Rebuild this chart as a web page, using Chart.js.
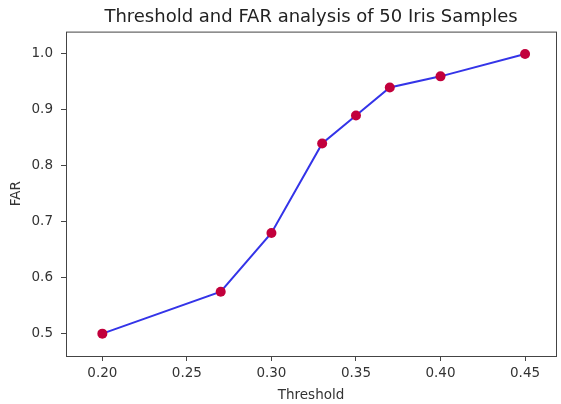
<!DOCTYPE html>
<html>
<head>
<meta charset="utf-8">
<script src="https://cdn.jsdelivr.net/npm/chart.js@4/dist/chart.umd.min.js"></script>
<style>
  html, body { margin: 0; padding: 0; background: #fff; }
  #wrap { width: 561px; height: 404px; position: relative; }
</style>
</head>
<body>
<div id="wrap"><canvas id="chart"></canvas></div>
<script>
// data
const thresholds = [0.20, 0.27, 0.30, 0.33, 0.35, 0.37, 0.40, 0.45]
const farValues = [0.5, 0.575, 0.68, 0.84, 0.89, 0.94, 0.96, 1.0]
const xTicks = [0.20, 0.25, 0.30, 0.35, 0.40, 0.45]
const yTicks = [0.5, 0.6, 0.7, 0.8, 0.9, 1.0]

const FONT = "'DejaVu Sans', sans-serif"
const TEXT = '#333'

// matplotlib-style box round the axes
const frame = {
  id: 'frame',
  afterDatasetsDraw(chart) {
    const { ctx, chartArea: a } = chart
    ctx.save()
    ctx.strokeStyle = '#444'
    ctx.lineWidth = 1
    ctx.strokeRect(a.left + 0.5, a.top + 0.5, a.right - a.left, a.bottom - a.top)
    ctx.restore()
  },
}

const ctx = document.getElementById('chart')

new Chart(ctx, {
  type: 'line',
  data: {
    datasets: [
      {
        data: thresholds.map((t, i) => ({ x: t, y: farValues[i] })),
        borderColor: 'rgba(30, 30, 230, 0.9)',
        borderWidth: 2,
        pointRadius: 5,
        pointHoverRadius: 5,
        pointBackgroundColor: '#c2003c',
        pointBorderColor: '#c2003c',
        pointBorderWidth: 0,
        tension: 0,
        fill: false,
      },
    ],
  },
  options: {
    responsive: true,
    maintainAspectRatio: false,
    animation: false,
    events: [],
    layout: { padding: { left: 0, right: 0, top: 0, bottom: 0 } },
    scales: {
      x: {
        type: 'linear',
        min: 0.1785,
        max: 0.4683,
        afterBuildTicks(scale) {
          scale.ticks = xTicks.map((v) => ({ value: v }))
        },
        afterFit(scale) {
          scale.height = 48
          scale.paddingLeft = 0
          scale.paddingRight = 0
        },
        ticks: {
          color: TEXT,
          font: { family: FONT, size: 13.5 },
          padding: 4,
          maxRotation: 0,
          autoSkip: false,
          callback: (v) => Number(v).toFixed(2),
        },
        grid: {
          drawOnChartArea: false,
          drawTicks: true,
          tickLength: 5,
          color: '#444',
        },
        border: { display: false },
        title: {
          display: true,
          text: 'Threshold',
          color: TEXT,
          font: { family: FONT, size: 13.5 },
          padding: { top: 2, bottom: 0 },
        },
      },
      y: {
        type: 'linear',
        min: 0.46,
        max: 1.04,
        afterBuildTicks(scale) {
          scale.ticks = yTicks.map((v) => ({ value: v }))
        },
        afterFit(scale) {
          scale.width = 66
          scale.paddingTop = 0
          scale.paddingBottom = 0
        },
        ticks: {
          color: TEXT,
          font: { family: FONT, size: 13.5 },
          padding: 8,
          autoSkip: false,
          callback: (v) => Number(v).toFixed(1),
        },
        grid: {
          drawOnChartArea: false,
          drawTicks: true,
          tickLength: 5,
          color: '#444',
        },
        border: { display: false },
        title: {
          display: true,
          text: 'FAR',
          color: TEXT,
          font: { family: FONT, size: 13.5 },
          padding: { top: 8, bottom: 0 },
        },
      },
    },
    plugins: {
      legend: { display: false },
      tooltip: { enabled: false },
      title: {
        display: true,
        fullSize: false,
        text: 'Threshold and FAR analysis of 50 Iris Samples',
        color: '#222',
        font: { family: FONT, size: 18, weight: 'normal' },
        padding: { top: 6.5, bottom: 3.5 },
      },
    },
  },
  plugins: [frame],
})
</script>
</body>
</html>
